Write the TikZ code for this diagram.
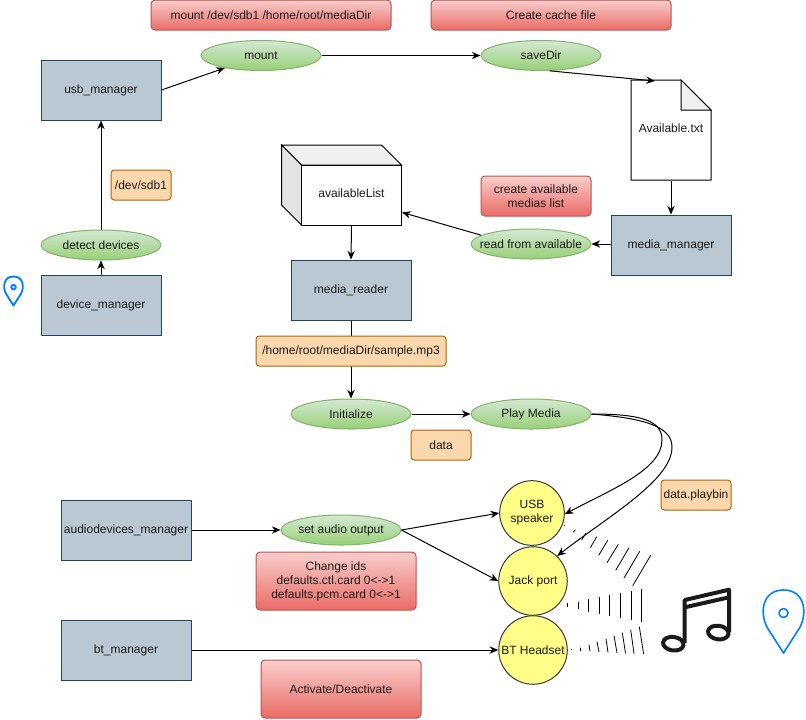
\documentclass[tikz,border=0pt]{standalone}
\usepackage{fontspec}
\setmainfont{Liberation Sans}
\usetikzlibrary{arrows.meta,shapes.geometric}
\definecolor{boxfill}{HTML}{BAC8D3}\definecolor{boxline}{HTML}{23445D}
\definecolor{gtop}{HTML}{D5E8D4}\definecolor{gbot}{HTML}{97D077}\definecolor{gline}{HTML}{82B366}
\definecolor{rtop}{HTML}{F8CECC}\definecolor{rbot}{HTML}{EA6B66}\definecolor{rline}{HTML}{B85450}
\definecolor{ofill}{HTML}{FAD7AC}\definecolor{oline}{HTML}{B46504}
\definecolor{yfill}{HTML}{FFFF88}\definecolor{yline}{HTML}{36393D}
\definecolor{pin}{HTML}{007FFF}\definecolor{ink}{HTML}{1A1A1A}
\tikzset{
  x=0.75pt,y=-0.75pt,
  every node/.style={font=\fontsize{9}{10.5}\selectfont,text=ink,align=center,inner sep=0pt,line width=0.75pt},
  wire/.style={line width=0.75pt,-{Stealth[length=6.5pt,width=5.5pt]}},
  mgr/.style={draw=boxline,fill=boxfill,rectangle,minimum width=90pt,minimum height=45pt},
  mgrw/.style={mgr,minimum width=97.5pt},
  act/.style={draw=gline,ellipse,top color=gtop,bottom color=gbot,minimum width=90pt,minimum height=22.5pt,inner xsep=-12pt},
  note/.style={draw=rline,top color=rtop,bottom color=rbot,rectangle,rounded corners=3pt},
  tag/.style={draw=oline,fill=ofill,rectangle,rounded corners=2.5pt},
  port/.style={draw=yline,fill=yfill,circle,minimum size=51.4pt},
  sig/.style={line width=0.6pt,black},
  pinline/.style={draw=pin,line join=round},
  notation/.style={line width=3pt,ink,line cap=round,line join=round}
}
\begin{document}
\begin{tikzpicture}
\useasboundingbox (0,0) rectangle (806,719);

% notes
\node[note,minimum width=180pt,minimum height=22.5pt] (n1) at (271,15) {mount /dev/sdb1 /home/root/mediaDir};
\node[note,minimum width=180pt,minimum height=22.5pt] (n2) at (551,15) {Create cache file};
\node[note,minimum width=82.5pt,minimum height=30pt] (n3) at (536,196) {create available\\medias list};
\node[note,minimum width=120pt,minimum height=43.5pt] (n4) at (336,581) {Change ids\\defaults.ctl.card 0<->1\\defaults.pcm.card 0<->1};
\node[note,minimum width=120pt,minimum height=43.5pt] (n5) at (341,689) {Activate/Deactivate};

% managers
\node[mgr] (usb) at (101,90) {usb\_manager};
\node[mgr] (dev) at (101,305) {device\_manager};
\node[mgr] (reader) at (351,290) {media\_reader};
\node[mgr] (media) at (671,245) {media\_manager};
\node[mgrw] (audio) at (126,530) {audiodevices\_manager};
\node[mgrw] (bt) at (126,650) {bt\_manager};

% actions
\node[act] (mount) at (261,55.5) {mount};
\node[act] (save) at (541,55.5) {saveDir};
\node[act] (detect) at (101,245) {detect devices};
\node[act] (read) at (531,244) {read from available};
\node[act] (init) at (351,414) {Initialize};
\node[act] (play) at (531,414) {Play Media};
\node[act] (setout) at (341,530) {set audio output};

% file
\draw[line width=0.75pt,fill=white] (631,80) -- (681,80) -- (711,110) -- (711,180) -- (631,180) -- cycle;
\draw[line width=0.75pt,fill=black!6] (681,80) -- (681,110) -- (711,110) -- cycle;
\node[minimum width=60pt,minimum height=75pt] (file) at (671,130) {};
\coordinate (filein) at (655,81);
\node at (671,128) {Available.txt};

% cube
\draw[line width=0.75pt,fill=black!6] (281.5,145) -- (381.5,145) -- (401.5,165) -- (301.5,165) -- cycle;
\draw[line width=0.75pt,fill=black!11] (281.5,145) -- (301.5,165) -- (301.5,225) -- (281.5,205) -- cycle;
\node[draw=black,fill=white,rectangle,minimum width=75pt,minimum height=45pt] (list) at (351.5,195) {};
\node at (351.5,193) {availableList};

% connectors
\draw[wire] (usb.east) -- (mount.199);
\draw[wire] (dev.north) -- (detect.south);
\draw[wire] (detect.north) -- (usb.south);
\draw[wire] (mount.east) -- (save.west);
\draw[wire] (save.-60) -- (filein);
\draw[wire] (file.south) -- (media.north);
\draw[wire] (media.west) ++(0,-1) -- (read.east);
\draw[wire] (read.170) -- (list.-19);
\draw[wire] (list.south) -- (reader.north);
\draw[wire] (reader.south) -- (init.north);
\draw[wire] (init.east) -- (play.west);

% labels over connector
\node[tag,minimum width=142.5pt,minimum height=22.5pt] (t2) at (351,351) {/home/root/mediaDir/sample.mp3};
\node[tag,minimum width=45pt,minimum height=22.5pt] (t1) at (141,185) {/dev/sdb1};
\node[tag,minimum width=45pt,minimum height=22.5pt] (t3) at (441,445) {data};
\node[tag,minimum width=52.5pt,minimum height=22.5pt] (t4) at (696,495) {data.playbin};

% ports
\node[port,minimum size=48.5pt] (pusb) at (532,513) {USB\\speaker};
\node[port] (pjack) at (533,581) {Jack port};
\node[port] (pbt) at (533,650) {BT Headset};

\draw[wire] (play.east) .. controls (640,414) and (662,420) .. (662,440)
  .. controls (662,470) and (610,490) .. (pusb.-2);
\draw[wire] (play.east) .. controls (640,418) and (672,425) .. (672,447)
  .. controls (672,480) and (610,515) .. (pjack.46);
\draw[wire] (audio.east) -- (setout.west);
\draw[wire] (setout.east) -- (pusb.west);
\draw[wire] (setout.east) -- (pjack.west);
\draw[wire] (bt.east) -- (pbt.west);

% signal fans
\foreach \a/\b/\c/\d in {
  564/525/564.5/525.5, 573.3/532.3/575.3/529.7, 581.7/540/585.7/533.3, 590.3/547.7/596.7/536.7,
  598.7/555.3/607.7/540.3, 607/562.7/618.3/544.3, 615.7/570.3/629/547.7, 624/578/639.7/551.3, 632.7/585.7/650.7/555.3,
  567.7/603.3/567.7/607.3, 578/601.7/578/609.3, 588.7/599.3/588.7/612, 599/597/599/613.7,
  609.7/595/609.7/615.7, 620.3/593/620.3/617.7, 631/590.7/631/620, 641.7/588.7/641.7/622,
  571.3/649.3/571.5/650, 580.3/647.7/580.7/651, 589/644.7/590/651.3, 597/641.7/599/652,
  606/638.7/608/652.3, 614/635.7/617/653, 622.3/632.7/625.5/653.3, 630.7/629.7/634/653.7,
  639.3/626.7/643.7/654.3}
  {\draw[sig] (\a,\b) -- (\c,\d);}

% music notes
\draw[notation,rotate around={-8:(673.3,643.7)}] (673.3,643.7) ellipse (10.3 and 6.8);
\draw[notation,rotate around={-8:(718.3,632.5)}] (718.3,632.5) ellipse (10.3 and 6.8);
\draw[notation,line cap=butt] (684.7,643) -- (684.7,600) -- (729,589.7) -- (729,632);
\draw[notation,line cap=butt] (684.7,607.3) -- (729,597.3);

% pins
\begin{scope}[shift={(13.5,276.5)},scale=0.46]
  \draw[pinline,line width=1.4pt] (0,63) -- (-16,38) .. controls (-24,24) and (-22,0) .. (0,0)
    .. controls (22,0) and (24,24) .. (16,38) -- cycle;
  \draw[pinline,line width=1.4pt] (0,23) circle (5);
\end{scope}
\begin{scope}[shift={(783.5,590)}]
  \draw[pinline,line width=1.2pt] (0,63) -- (-16,38) .. controls (-24,24) and (-22,0) .. (0,0)
    .. controls (22,0) and (24,24) .. (16,38) -- cycle;
  \draw[pinline,line width=1.2pt] (0,23) circle (4.5);
\end{scope}
\end{tikzpicture}
\end{document}
